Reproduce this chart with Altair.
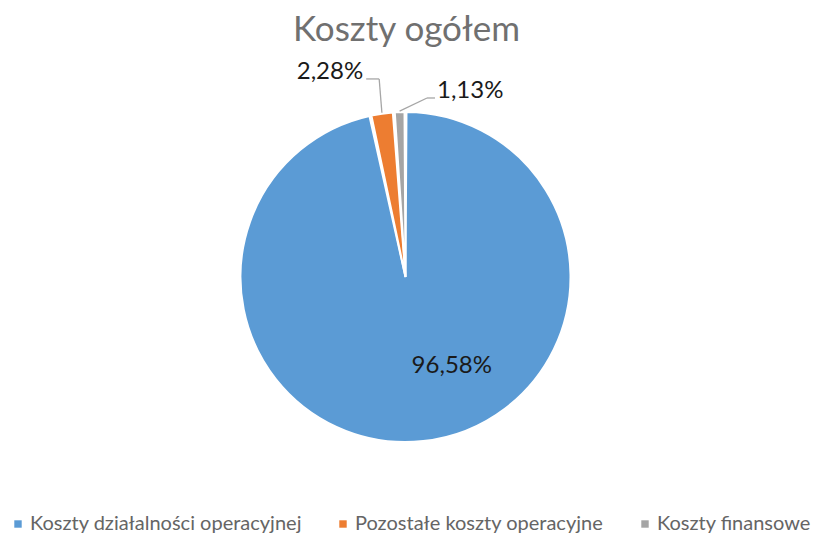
import altair as alt
import pandas as pd

categories = ["Koszty działalności operacyjnej", "Pozostałe koszty operacyjne", "Koszty finansowe"]
shares = [96.58, 2.28, 1.13]
labels = ["96,58%", "2,28%", "1,13%"]
colors = ["#5B9BD5", "#ED7D31", "#A5A5A5"]

df = pd.DataFrame({"cat": categories, "share": shares, "label": labels, "idx": list(range(len(categories)))})

W, H, TOP = 813, 484, 50
CX, CY = 405.5, 227
R = 165
FONT = "Lato"

# label styling per slice index: angular shift (rad) and radius of label / elbow, horizontal run of leader
lab_shift = "[-0.374, 0.0105, 0.155]"
lab_rad = "[100, 199.8, 180.3]"
run = "[0, -13, 8]"
txt_dx = "[0, -3, 2]"
txt_dy = "[0, -7, -7]"

base = (
    alt.Chart(df)
    .transform_joinaggregate(total="sum(share)")
    .transform_window(cum="sum(share)", sort=[alt.SortField("idx")], frame=[None, 0])
    .transform_calculate(mid="2*PI*(datum.cum - datum.share/2)/datum.total")
    .transform_calculate(
        ex=f"{R + 1}*sin(datum.mid)",
        ey=f"-{R + 1}*cos(datum.mid)",
        elx=f"{lab_rad}[datum.idx]*sin(datum.mid + {lab_shift}[datum.idx])",
        ely=f"-{lab_rad}[datum.idx]*cos(datum.mid + {lab_shift}[datum.idx])",
    )
    .transform_calculate(
        endx=f"datum.elx + {run}[datum.idx]",
    )
    .transform_calculate(
        tx=f"datum.endx + {txt_dx}[datum.idx]",
        ty=f"datum.ely + {txt_dy}[datum.idx]",
    )
)

xs = alt.Scale(domain=[-CX, W - CX], nice=False, zero=False)
ys = alt.Scale(domain=[-CY, H - CY], nice=False, zero=False, reverse=True)

arcs = base.mark_arc(outerRadius=R, stroke="white", strokeWidth=2, padAngle=0.012).encode(
    theta=alt.Theta("share:Q", stack=True),
    order=alt.Order("idx:Q"),
    color=alt.Color(
        "cat:N",
        scale=alt.Scale(domain=categories, range=colors),
        sort=categories,
        legend=alt.Legend(
            title=None,
            orient="none",
            legendX=8,
            legendY=464,
            direction="horizontal",
            symbolType="square",
            symbolSize=55,
            symbolStrokeWidth=0,
            labelFont=FONT,
            labelFontSize=20,
            labelColor="#656565",
            labelOffset=2,
            columnPadding=31,
            labelLimit=400,
        ),
    ),
    x=alt.value(CX),
    y=alt.value(CY),
)

leaders = base.transform_filter("datum.idx > 0")
seg1 = leaders.mark_rule(color="#A6A6A6", strokeWidth=1.3).encode(
    x=alt.X("ex:Q", scale=xs, axis=None),
    y=alt.Y("ey:Q", scale=ys, axis=None),
    x2="elx:Q",
    y2="ely:Q",
)
seg2 = leaders.mark_rule(color="#A6A6A6", strokeWidth=1.3).encode(
    x=alt.X("elx:Q", scale=xs, axis=None),
    y=alt.Y("ely:Q", scale=ys, axis=None),
    x2="endx:Q",
    y2="ely:Q",
)

def text_layer(i, align):
    return base.transform_filter(f"datum.idx == {i}").mark_text(
        font=FONT, fontSize=24, color="#1a1a1a", align=align, baseline="middle"
    ).encode(
        x=alt.X("tx:Q", scale=xs, axis=None),
        y=alt.Y("ty:Q", scale=ys, axis=None),
        text="label:N",
    )

chart = (
    alt.layer(arcs, seg1, seg2, text_layer(0, "center"), text_layer(1, "right"), text_layer(2, "left"))
    .properties(
        width=W,
        height=H,
        padding={"top": TOP, "left": 0, "right": 0, "bottom": 0},
        autosize=alt.AutoSizeParams(type="none"),
        title=alt.Title(
            "Koszty ogółem",
            font=FONT,
            fontSize=35,
            fontWeight="normal",
            color="#707070",
            anchor="middle",
            offset=2,
        ),
    )
    .configure_view(stroke=None)
)

chart.save("out.html", embed_options={"renderer": "svg", "actions": False})
